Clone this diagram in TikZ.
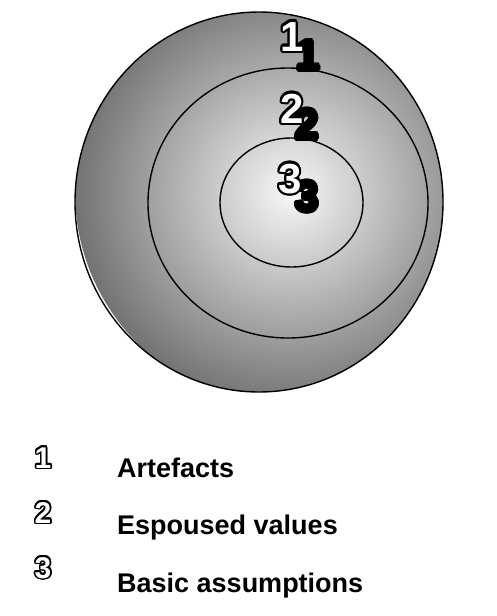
\documentclass[tikz,border=0pt]{standalone}
\usepackage{fontspec}
\setmainfont{Liberation Sans}
\def\olw{2.2pt}
\newcommand\outl[3]{\leavevmode\rlap{\color{#1}\foreach \a in {0,22.5,...,337.5}{\pgfmathsetlengthmacro\dx{\olw*cos(\a)}\pgfmathsetlengthmacro\dy{\olw*sin(\a)}\rlap{\hspace*{\dx}\raisebox{\dy}{#3}}}}\textcolor{#2}{#3}}
\tikzset{
  ring/.style={draw=black, line width=1.4pt},
  bignum/.style={font=\bfseries\fontsize{42}{42}\selectfont, anchor=base, inner sep=0pt},
  legnum/.style={font=\bfseries\fontsize{30}{30}\selectfont, anchor=base, inner sep=0pt},
  legtext/.style={font=\bfseries\fontsize{27}{27}\selectfont, anchor=base west, inner sep=0pt},
}
\begin{document}
\begin{tikzpicture}[x=1pt, y=-1pt]
\useasboundingbox (0,0) rectangle (497,616);
\begin{scope}
  \clip (259,202) ellipse [x radius=184pt, y radius=190pt];
  \shade[inner color=black!3, outer color=black!55] (290,192) circle [radius=215pt];
\end{scope}
\draw[ring] (259,202) ellipse [x radius=184pt, y radius=190pt];
\draw[ring] (288,203) ellipse [x radius=140pt, y radius=135pt];
\draw[ring] (291.5,202.5) ellipse [x radius=71.5pt, y radius=64.5pt];
% shadows
\node[bignum] (s1) at (308,70) {\outl{black}{black}{1}};
\node[bignum] (s2) at (307,139) {\outl{black}{black}{2}};
\node[bignum] (s3) at (307,211) {\outl{black}{black}{3}};
% white digits
\node[bignum] (n1) at (292,51) {\outl{black}{white}{1}};
\node[bignum] (n2) at (292,123) {\outl{black}{white}{2}};
\node[bignum] (n3) at (290,193) {\outl{black}{white}{3}};
% legend
\def\olw{1.6pt}
\node[legnum] (l1) at (43,468) {\outl{black}{white}{1}};
\node[legnum] (l2) at (43,523) {\outl{black}{white}{2}};
\node[legnum] (l3) at (43,578) {\outl{black}{white}{3}};
\node[legtext] (t1) at (117,477) {Artefacts};
\node[legtext] (t2) at (117,534) {Espoused values};
\node[legtext] (t3) at (117,592) {Basic assumptions};
\end{tikzpicture}
\end{document}
